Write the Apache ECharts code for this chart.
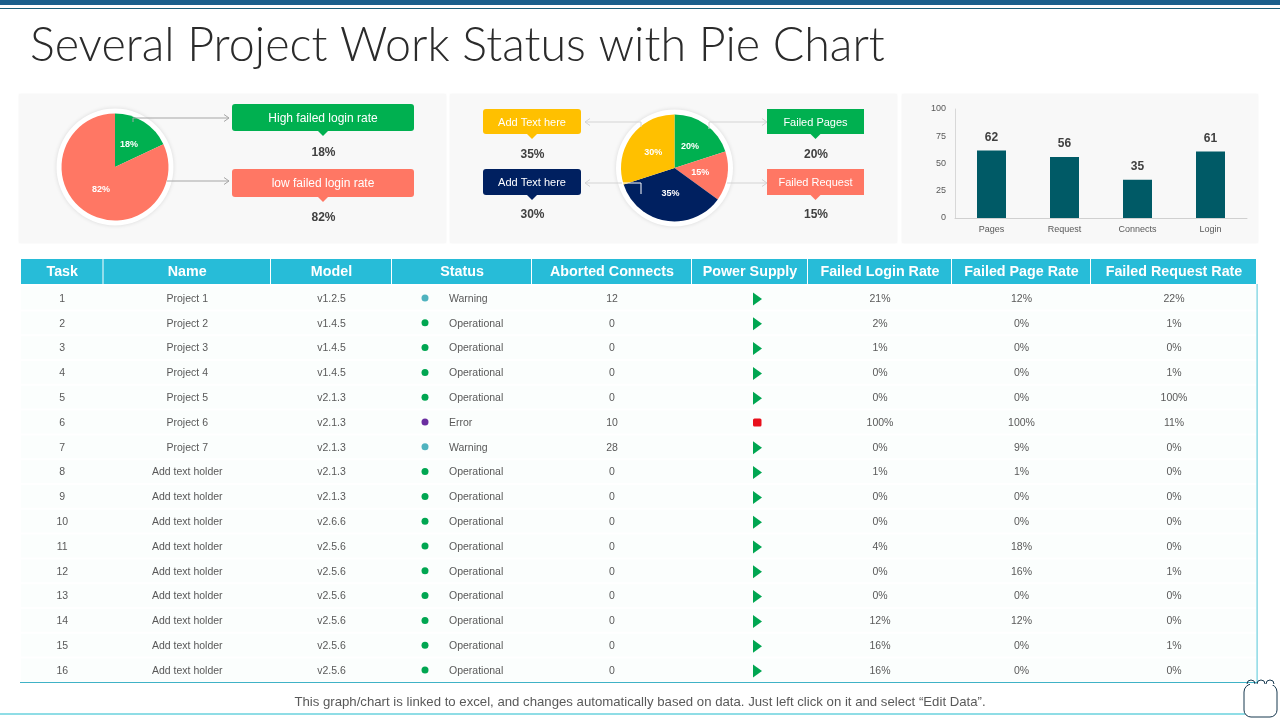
<!DOCTYPE html>
<html>
<head>
<meta charset="utf-8">
<title>Several Project Work Status with Pie Chart</title>
<script src="https://cdn.jsdelivr.net/npm/echarts@6/dist/echarts.min.js"></script>
<style>
  html, body { margin: 0; padding: 0; background: #fff; }
  #main { width: 1280px; height: 720px; }
</style>
</head>
<body>
<div id="main"></div>
<script>
// chart data
const loginLabels = ["High failed login rate", "low failed login rate"];
const loginValues = [18, 82];
const pageLabels = ["Failed Pages", "Failed Request", "Add Text here", "Add Text here"];
const pageValues = [20, 15, 35, 30];
const barCategories = ["Pages", "Request", "Connects", "Login"];
const barValues = [62, 56, 35, 61];
const barTicks = [0, 25, 50, 75, 100];

// table data
const tableHeaders = ["Task", "Name", "Model", "Status", "Aborted Connects", "Power Supply", "Failed Login Rate", "Failed Page Rate", "Failed Request Rate"];
const taskIds = ["1", "2", "3", "4", "5", "6", "7", "8", "9", "10", "11", "12", "13", "14", "15", "16"];
const taskNames = ["Project 1", "Project 2", "Project 3", "Project 4", "Project 5", "Project 6", "Project 7", "Add text holder", "Add text holder", "Add text holder", "Add text holder", "Add text holder", "Add text holder", "Add text holder", "Add text holder", "Add text holder"];
const taskModels = ["v1.2.5", "v1.4.5", "v1.4.5", "v1.4.5", "v2.1.3", "v2.1.3", "v2.1.3", "v2.1.3", "v2.1.3", "v2.6.6", "v2.5.6", "v2.5.6", "v2.5.6", "v2.5.6", "v2.5.6", "v2.5.6"];
const taskStatus = ["Warning", "Operational", "Operational", "Operational", "Operational", "Error", "Warning", "Operational", "Operational", "Operational", "Operational", "Operational", "Operational", "Operational", "Operational", "Operational"];
const abortedConnects = [12, 0, 0, 0, 0, 10, 28, 0, 0, 0, 0, 0, 0, 0, 0, 0];
const powerOn = [1, 1, 1, 1, 1, 0, 1, 1, 1, 1, 1, 1, 1, 1, 1, 1];
const failedLogin = [21, 2, 1, 0, 0, 100, 0, 1, 0, 0, 4, 0, 0, 12, 16, 16];
const failedPage = [12, 0, 0, 0, 0, 100, 9, 1, 0, 0, 18, 16, 0, 12, 0, 0];
const failedRequest = [22, 1, 0, 1, 100, 11, 0, 0, 0, 0, 0, 1, 0, 0, 1, 0];

const SALMON = "#ff7764";
const GREEN = "#00b050";
const YELLOW = "#ffc000";
const NAVY = "#002060";
const ARIAL = "'Liberation Sans', Arial, sans-serif";

// column edges of the table, in page pixels
const colEdges = [21, 103.5, 271, 392, 532, 692, 808, 952, 1091, 1257];
const statusColor = { Warning: "#4fb3bf", Operational: "#00a651", Error: "#6a2ea0" };

function colCenter(i) {
  return (colEdges[i] + colEdges[i + 1]) / 2;
}

function label(text, x, y, size, color, weight) {
  return {
    type: "text",
    z: 6,
    style: {
      x: x, y: y, text: text, fill: color,
      font: (weight || "normal") + " " + size + "px " + ARIAL,
      align: "center", verticalAlign: "middle",
    },
  };
}

function panel(x, y, w, h) {
  return {
    type: "rect",
    z: 0,
    shape: { x: x, y: y, width: w, height: h },
    style: { fill: "#f8f8f8", shadowBlur: 2, shadowColor: "rgba(0,0,0,0.05)" },
  };
}

function ring(cx, cy) {
  return {
    type: "circle",
    z: 1,
    shape: { cx: cx, cy: cy, r: 58.5 },
    style: { fill: "#fff", shadowBlur: 4, shadowColor: "rgba(0,0,0,0.12)" },
  };
}

// box with a small pointer under it, plus the value below
function callout(x, y, w, h, r, color, text, size, valueText, valueY) {
  const mid = x + w / 2;
  return [
    {
      type: "rect", z: 5,
      shape: { x: x, y: y, width: w, height: h, r: r },
      style: { fill: color },
    },
    {
      type: "polygon", z: 5,
      shape: { points: [[mid - 5, y + h], [mid + 5, y + h], [mid, y + h + 5]] },
      style: { fill: color },
    },
    label(text, mid, y + h / 2 + 1, size, "#fff"),
    label(valueText, mid + 0.5, valueY, 12, "#404040", "bold"),
  ];
}

function polyLine(points, color) {
  return {
    type: "polyline", z: 4,
    shape: { points: points },
    style: { stroke: color, lineWidth: 1, fill: null },
  };
}

function arrowRight(x, y, color) {
  return polyLine([[x - 5, y - 3.5], [x, y], [x - 5, y + 3.5]], color);
}

function arrowLeft(x, y, color) {
  return polyLine([[x + 5, y - 3.5], [x, y], [x + 5, y + 3.5]], color);
}

function bump(cx) {
  return {
    type: "arc", z: 9,
    shape: { cx: cx, cy: 684, r: 4, startAngle: Math.PI, endAngle: 0 },
    style: { stroke: "#17384f", lineWidth: 1, fill: null },
  };
}

// pulls the inside pie labels a little towards the centre
function labelInward(cx, cy) {
  return function (params) {
    const r = params.labelRect;
    return {
      dx: (cx - (r.x + r.width / 2)) * 0.12,
      dy: (cy - (r.y + r.height / 2)) * 0.12,
    };
  };
}

const graphics = [
  // top bars
  { type: "rect", shape: { x: 0, y: 0, width: 1280, height: 5 }, style: { fill: "#1a5f8c" } },
  { type: "rect", shape: { x: 0, y: 8, width: 1280, height: 1 }, style: { fill: "#1a5f7a" } },
  {
    type: "text",
    style: {
      x: 30, y: 46, text: "Several Project Work Status with Pie Chart", fill: "#2b2b2b",
      font: "300 46.6px Lato, sans-serif", align: "left", verticalAlign: "middle",
    },
  },

  panel(19, 94, 427, 149),
  panel(450, 94, 447, 149),
  panel(902, 94, 356, 149),
  ring(115, 167),
  ring(674.5, 168),

  // connectors of the first pie
  polyLine([[133, 122], [133, 118], [229, 118]], "#a6a6a6"),
  arrowRight(229, 118, "#a6a6a6"),
  polyLine([[167, 181], [229, 181]], "#a6a6a6"),
  arrowRight(229, 181, "#a6a6a6"),

  // connectors of the second pie
  polyLine([[641, 127], [641, 122], [585, 122]], "#d4d4d4"),
  arrowLeft(585, 122, "#d4d4d4"),
  polyLine([[641, 194], [641, 183], [622, 183]], "#fff"),
  polyLine([[622, 183], [585, 183]], "#d4d4d4"),
  arrowLeft(585, 183, "#d4d4d4"),
  polyLine([[709, 129], [709, 122], [767, 122]], "#d4d4d4"),
  arrowRight(767, 122, "#d4d4d4"),
  polyLine([[727, 183], [767, 183]], "#d4d4d4"),
  arrowRight(767, 183, "#d4d4d4"),
]
  .concat(callout(232, 104, 182, 27, 3, GREEN, loginLabels[0], 12, loginValues[0] + "%", 153))
  .concat(callout(232, 169, 182, 28, 3, SALMON, loginLabels[1], 12, loginValues[1] + "%", 218))
  .concat(callout(767, 109, 97, 25, 0, GREEN, pageLabels[0], 11, pageValues[0] + "%", 155))
  .concat(callout(767, 169, 97, 26, 0, SALMON, pageLabels[1], 11, pageValues[1] + "%", 214.5))
  .concat(callout(483, 109, 98, 25, 3, YELLOW, pageLabels[2], 11, pageValues[2] + "%", 155))
  .concat(callout(483, 169, 98, 26, 3, NAVY, pageLabels[3], 11, pageValues[3] + "%", 214.5));

// table header
tableHeaders.forEach(function (name, i) {
  graphics.push({
    type: "rect", z: 5,
    shape: { x: colEdges[i], y: 259, width: colEdges[i + 1] - colEdges[i] - 1, height: 25 },
    style: { fill: "#27bcd8" },
  });
  graphics.push(label(name, colCenter(i), 272, 14.3, "#fff", "bold"));
});

// table frame, footer and the note icon
graphics.push(
  { type: "rect", z: 5, shape: { x: 1256.5, y: 284, width: 1.2, height: 398 }, style: { fill: "#6fd0de" } },
  { type: "rect", z: 5, shape: { x: 20, y: 682, width: 1237, height: 1 }, style: { fill: "#3fb2c6" } },
  { type: "rect", z: 5, shape: { x: 0, y: 713, width: 1245, height: 2 }, style: { fill: "#8fdde6" } },
  label("This graph/chart is linked to excel, and changes automatically based on data. Just left click on it and select \u201cEdit Data\u201d.", 640, 702, 13.2, "#595959"),
  {
    type: "rect", z: 7,
    shape: { x: 1244, y: 684, width: 33, height: 33, r: [8, 8, 7, 7] },
    style: { fill: "#fff", stroke: "#17384f", lineWidth: 1 },
  },
  { type: "rect", z: 8, shape: { x: 1250, y: 683, width: 23, height: 2 }, style: { fill: "#fff" } },
  bump(1251),
  bump(1261),
  bump(1270)
);

// one row of the table, y comes from the category axis
function renderRow(params, api) {
  const i = api.value(0);
  const y = api.coord([0, i])[1];
  const bandH = api.size([0, 1])[1];
  const children = [];

  children.push({
    type: "rect",
    shape: { x: colEdges[0], y: y - bandH / 2 + 1, width: colEdges[9] - colEdges[0] - 1, height: bandH - 2 },
    style: { fill: "#fbfefd" },
  });

  const cells = [
    [taskIds[i], 0],
    [taskNames[i], 1],
    [taskModels[i], 2],
    [String(abortedConnects[i]), 4],
    [failedLogin[i] + "%", 6],
    [failedPage[i] + "%", 7],
    [failedRequest[i] + "%", 8],
  ];
  cells.forEach(function (cell) {
    children.push({
      type: "text",
      style: {
        x: colCenter(cell[1]), y: y + 1, text: cell[0], fill: "#595959",
        font: "10.5px " + ARIAL, align: "center", verticalAlign: "middle",
      },
    });
  });

  // status dot and text
  children.push({
    type: "circle",
    shape: { cx: 425, cy: y, r: 3.5 },
    style: { fill: statusColor[taskStatus[i]] },
  });
  children.push({
    type: "text",
    style: {
      x: 449, y: y + 1, text: taskStatus[i], fill: "#595959",
      font: "10.5px " + ARIAL, align: "left", verticalAlign: "middle",
    },
  });

  // power supply, green play or red stop
  if (powerOn[i]) {
    children.push({
      type: "polygon",
      shape: { points: [[753, y - 5.5], [762, y + 1], [753, y + 7.5]] },
      style: { fill: "#00a651" },
    });
  } else {
    children.push({
      type: "rect",
      shape: { x: 753, y: y - 3.5, width: 8.5, height: 8, r: 1.5 },
      style: { fill: "#e8101c" },
    });
  }

  return { type: "group", children: children };
}

const myChart = echarts.init(document.getElementById("main"));

const pieLabel = { position: "inside", formatter: "{c}%", color: "#fff", fontSize: 9, fontWeight: "bold", fontFamily: ARIAL };

const option = {
  animation: false,
  backgroundColor: "#fff",
  graphic: { elements: graphics },
  grid: [
    { left: 955, top: 109, width: 292, height: 109 },
    { left: 0, top: 285.6, width: 1280, height: 396.8 },
  ],
  xAxis: [
    {
      gridIndex: 0,
      type: "category",
      data: barCategories,
      axisTick: { show: false },
      axisLine: { lineStyle: { color: "#d0d0d0" } },
      axisLabel: { color: "#595959", fontSize: 9, fontFamily: ARIAL, margin: 7 },
    },
    { gridIndex: 1, type: "value", min: 0, max: 1280, show: false },
  ],
  yAxis: [
    {
      gridIndex: 0,
      type: "value",
      min: barTicks[0],
      max: barTicks[barTicks.length - 1],
      interval: barTicks[1] - barTicks[0],
      splitLine: { show: false },
      axisTick: { show: false },
      axisLine: { show: true, lineStyle: { color: "#d8d8d8" } },
      axisLabel: { color: "#595959", fontSize: 9, fontFamily: ARIAL, margin: 9 },
    },
    {
      gridIndex: 1,
      type: "category",
      inverse: true,
      data: taskIds,
      show: false,
    },
  ],
  series: [
    {
      type: "pie",
      center: [115, 167],
      radius: [0, 53.5],
      silent: true,
      itemStyle: { borderWidth: 0 },
      label: pieLabel,
      labelLine: { show: false },
      labelLayout: labelInward(115, 167),
      data: [
        { value: loginValues[0], name: loginLabels[0], itemStyle: { color: GREEN } },
        { value: loginValues[1], name: loginLabels[1], itemStyle: { color: SALMON } },
      ],
    },
    {
      type: "pie",
      center: [674.5, 168],
      radius: [0, 53.5],
      silent: true,
      itemStyle: { borderWidth: 0 },
      label: pieLabel,
      labelLine: { show: false },
      labelLayout: labelInward(674.5, 168),
      data: [
        { value: pageValues[0], name: pageLabels[0], itemStyle: { color: GREEN } },
        { value: pageValues[1], name: pageLabels[1], itemStyle: { color: SALMON } },
        { value: pageValues[2], name: "Add Text here 1", itemStyle: { color: NAVY } },
        { value: pageValues[3], name: "Add Text here 2", itemStyle: { color: YELLOW } },
      ],
    },
    {
      type: "bar",
      xAxisIndex: 0,
      yAxisIndex: 0,
      data: barValues,
      barWidth: 29,
      itemStyle: { color: "#005a66" },
      label: { show: true, position: "top", distance: 7, color: "#404040", fontSize: 12, fontWeight: "bold", fontFamily: ARIAL },
    },
    {
      type: "custom",
      xAxisIndex: 1,
      yAxisIndex: 1,
      data: taskIds.map(function (id, i) { return [i]; }),
      encode: { y: 0 },
      renderItem: renderRow,
      silent: true,
    },
  ],
};

myChart.setOption(option);
</script>
</body>
</html>
